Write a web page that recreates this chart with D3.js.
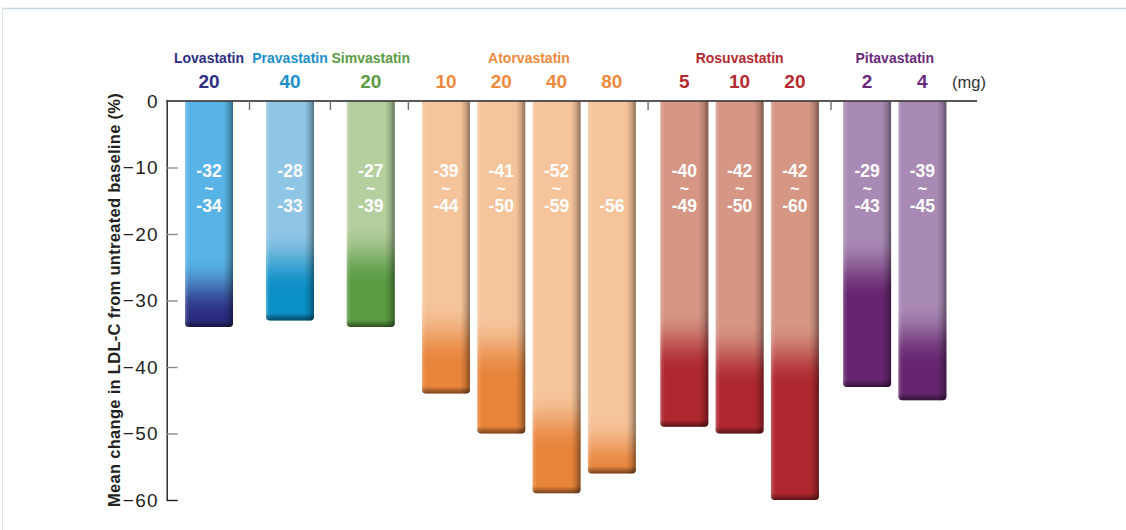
<!DOCTYPE html>
<html><head><meta charset="utf-8">
<script src="https://cdn.jsdelivr.net/npm/d3@7"></script>
<style>
html,body{margin:0;padding:0;background:#fff;}
svg{display:block;font-family:"Liberation Sans",Arial,Helvetica,sans-serif;}
</style></head><body>
<svg id="chart" width="1126" height="530"></svg>
<script>
// Statins and their doses (mg)
const drugs = ["Lovastatin", "Pravastatin", "Simvastatin", "Atorvastatin", "Rosuvastatin", "Pitavastatin"];
const doses = [[20], [40], [20], [10, 20, 40, 80], [5, 10, 20], [2, 4]];
// Reported LDL-C change range (%): upper end (null when a single value is reported) and lower end
const rangeHigh = [[-32], [-28], [-27], [-39, -41, -52, null], [-40, -42, -42], [-29, -39]];
const rangeLow  = [[-34], [-33], [-39], [-44, -50, -59, -56], [-49, -50, -60], [-43, -45]];
// Mean change drawn as bar depth (%)
const barValues = [[-34], [-33], [-34], [-44, -50, -59, -56], [-49, -50, -60], [-43, -45]];
const yTicks = [0, -10, -20, -30, -40, -50, -60];

// Styling per drug
const nameColors = ["#2e2d84", "#1b8fca", "#5a9c44", "#ee8a3c", "#b42a30", "#6a2a7e"];
const barTop     = ["#58b4e6", "#8fc5e5", "#b5cf9f", "#f5c49b", "#d59683", "#a98ab4"];
const barBottom  = ["#2b2b80", "#0a8fc6", "#5a9b42", "#e8843a", "#b0282f", "#66256f"];
// Extra space before each drug group, in bar steps
const groupGap = [0, 0.465, 0.46, 0.36, 0.31, 0.305];

const svg = d3.select("#chart");
const defs = svg.append("defs");

// Flatten into one record per bar with a slot position along the x axis
const bars = [];
let idx = 0, gapSum = 0;
drugs.forEach((drug, g) => {
  gapSum += groupGap[g];
  doses[g].forEach((dose, j) => {
    bars.push({
      drug, g, dose,
      value: barValues[g][j],
      hi: rangeHigh[g][j],
      lo: rangeLow[g][j],
      slot: idx + gapSum
    });
    idx++;
  });
});

const barW = 48;
const x = d3.scaleLinear()
  .domain([0, bars[bars.length - 1].slot])
  .range([209, 922.4]);
const y = d3.scaleLinear().domain([0, -60]).range([101, 500]);
const axisX = 166.7;

// Outer frame lines
svg.append("line").attr("x1", 2).attr("x2", 1126).attr("y1", 8.5).attr("y2", 8.5)
  .attr("stroke", "#c6d6e2").attr("stroke-width", 1.5);
svg.append("line").attr("x1", 2.5).attr("x2", 2.5).attr("y1", 8).attr("y2", 530)
  .attr("stroke", "#d8e3ec").attr("stroke-width", 1);

// Shared shading: light left edge, dark right edge
const shade = defs.append("linearGradient").attr("id", "edgeShade")
  .attr("x1", 0).attr("x2", 1).attr("y1", 0).attr("y2", 0);
[[0, "#fff", 0.3], [0.04, "#fff", 0.1], [0.1, "#fff", 0], [0.8, "#000", 0],
 [0.9, "#000", 0.15], [1, "#000", 0.42]].forEach(s =>
  shade.append("stop").attr("offset", s[0]).attr("stop-color", s[1]).attr("stop-opacity", s[2]));

// Shared bottom rim shading
const rim = defs.append("linearGradient").attr("id", "rimShade")
  .attr("x1", 0).attr("x2", 0).attr("y1", 0).attr("y2", 1);
[[0, "#000", 0], [0.35, "#000", 0.18], [1, "#000", 0.5]].forEach(s =>
  rim.append("stop").attr("offset", s[0]).attr("stop-color", s[1]).attr("stop-opacity", s[2]));

// Bar outline with rounded bottom corners
function barPath(x0, y0, w, y1, r) {
  return `M${x0},${y0}H${x0 + w}V${y1 - r}Q${x0 + w},${y1} ${x0 + w - r},${y1}` +
         `H${x0 + r}Q${x0},${y1} ${x0},${y1 - r}Z`;
}

// Vertical colour ramp per bar: light above the reported range, easing into the saturated tone
bars.forEach((b, i) => {
  const y0 = y(0), y1 = y(b.value);
  const start = y(b.hi != null ? b.hi : b.lo);
  const clamp = v => Math.max(0, Math.min(1, v));
  const t1 = clamp((start - 58 - y0) / (y1 - y0));
  const t2 = Math.max(t1, clamp((start + 6 - y0) / (y1 - y0)));
  const mix = d3.interpolateRgb(barTop[b.g], barBottom[b.g]);
  const grad = defs.append("linearGradient").attr("id", "bar" + i)
    .attr("gradientUnits", "userSpaceOnUse")
    .attr("x1", 0).attr("x2", 0).attr("y1", y0).attr("y2", y1);
  grad.append("stop").attr("offset", 0).attr("stop-color", barTop[b.g]);
  d3.range(0, 1.0001, 0.125).forEach(k => {
    grad.append("stop").attr("offset", t1 + (t2 - t1) * k)
      .attr("stop-color", mix(d3.easeSinInOut(k)));
  });
  grad.append("stop").attr("offset", 1).attr("stop-color", barBottom[b.g]);
});

const barG = svg.append("g");
const bg = barG.selectAll("g.bar").data(bars).join("g").attr("class", "bar");
bg.append("path")
  .attr("d", d => barPath(x(d.slot) - barW / 2, y(0) + 0.5, barW, y(d.value), 4))
  .attr("fill", (d, i) => `url(#bar${i})`);
bg.append("path")
  .attr("d", d => barPath(x(d.slot) - barW / 2, y(0) + 0.5, barW, y(d.value), 4))
  .attr("fill", "url(#edgeShade)");
bg.append("path")
  .attr("d", d => barPath(x(d.slot) - barW / 2, y(d.value) - 7, barW, y(d.value), 4))
  .attr("fill", "url(#rimShade)");

// Range labels inside the bars
const lbl = svg.append("g").attr("fill", "#fff").attr("font-weight", "bold")
  .attr("text-anchor", "middle");
bars.forEach(b => {
  const cx = x(b.slot);
  if (b.hi != null) {
    lbl.append("text").attr("x", cx).attr("y", 177).attr("font-size", 17.5).text(b.hi);
    lbl.append("text").attr("x", cx).attr("y", 194).attr("font-size", 16).text("~");
  }
  lbl.append("text").attr("x", cx).attr("y", 212).attr("font-size", 17.5).text(b.lo);
});

// Y axis with inward ticks
const yAxis = svg.append("g").attr("transform", `translate(${axisX},0)`)
  .call(d3.axisLeft(y).tickValues(yTicks).tickSizeInner(-11).tickSizeOuter(0)
    .tickPadding(8).tickFormat(d3.format("d")));
yAxis.select(".domain").attr("stroke", "#231f20").attr("stroke-width", 1.4);
yAxis.selectAll(".tick line").attr("stroke", "#8c8c8c").attr("stroke-width", 1.4);
yAxis.selectAll(".tick").filter(d => d === -60).select("line").attr("stroke", "#231f20");
yAxis.selectAll(".tick").filter(d => d === 0).select("line").remove();
yAxis.selectAll(".tick text").attr("font-size", 19).attr("fill", "#231f20")
  .attr("letter-spacing", 1.2)
  .attr("font-family", "'Liberation Sans', Arial, sans-serif");

// Top baseline with group separators
svg.append("line").attr("x1", axisX - 0.7).attr("x2", 977).attr("y1", y(0)).attr("y2", y(0))
  .attr("stroke", "#231f20").attr("stroke-width", 1.4);
const groupSlots = drugs.map((d, g) => {
  const gb = bars.filter(b => b.g === g);
  return [gb[0].slot, gb[gb.length - 1].slot];
});
for (let g = 1; g < drugs.length; g++) {
  const sx = x((groupSlots[g - 1][1] + groupSlots[g][0]) / 2);
  svg.append("line").attr("x1", sx).attr("x2", sx).attr("y1", y(0)).attr("y2", y(0) + 9)
    .attr("stroke", "#6f6f6f").attr("stroke-width", 1.4);
}

// Drug names and doses
const head = svg.append("g").attr("font-weight", "bold").attr("text-anchor", "middle");
drugs.forEach((drug, g) => {
  head.append("text").attr("x", x((groupSlots[g][0] + groupSlots[g][1]) / 2)).attr("y", 63)
    .attr("font-size", 14).attr("fill", nameColors[g]).text(drug);
});
bars.forEach(b => {
  head.append("text").attr("x", x(b.slot)).attr("y", 88).attr("font-size", 19)
    .attr("fill", nameColors[b.g]).text(b.dose);
});
svg.append("text").attr("x", 952).attr("y", 88).attr("font-size", 16.5).attr("fill", "#333")
  .text("(mg)");

// Y axis title
svg.append("text")
  .attr("transform", "translate(120,300) rotate(-90)")
  .attr("text-anchor", "middle").attr("font-weight", "bold").attr("font-size", 16.5)
  .attr("letter-spacing", 0.3)
  .attr("fill", "#231f20")
  .text("Mean change in LDL-C from untreated baseline (%)");
</script>
</body></html>
